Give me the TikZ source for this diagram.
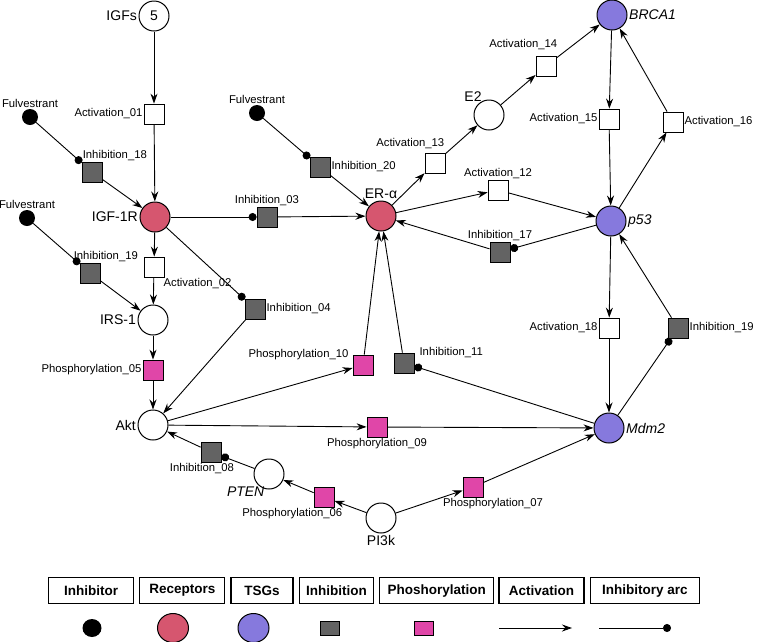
\documentclass[tikz,border=0pt]{standalone}
\usepackage{fontspec}
\setmainfont{Liberation Sans}
\usepackage{tikz}
\usetikzlibrary{arrows.meta,positioning,shapes.geometric}
\definecolor{recred}{HTML}{D6566F}
\definecolor{tsgblue}{HTML}{8679DD}
\definecolor{inhgrey}{HTML}{636363}
\definecolor{phospink}{HTML}{E046A8}

\begin{document}
\begin{tikzpicture}[x=1pt,y=-1pt,
    place/.style={circle,draw,line width=1pt,minimum size=30pt,inner sep=0pt,fill=white},
    rec/.style={place,fill=recred},
    tsg/.style={place,fill=tsgblue},
    drug/.style={circle,fill=black,minimum size=16pt,inner sep=0pt},
    act/.style={rectangle,draw,line width=0.8pt,minimum size=20pt,inner sep=0pt,fill=white},
    inh/.style={act,fill=inhgrey},
    phos/.style={act,fill=phospink},
    lbl/.style={font=\fontsize{11.3}{13}\selectfont,inner sep=1pt},
    big/.style={font=\fontsize{14}{16}\selectfont,inner sep=1.5pt},
    gene/.style={font=\fontsize{14}{16}\selectfont\itshape,inner sep=1.5pt},
    arc/.style={line width=0.9pt,-{Stealth[length=10pt,width=7pt]}},
    inarc/.style={line width=0.9pt,-{Circle[length=8pt]}},
    legbox/.style={draw,line width=1.3pt,minimum height=26pt,inner sep=0pt,font=\fontsize{13.5}{15}\selectfont\bfseries},
    legkey/.style={ellipse,draw,line width=1pt,minimum width=31pt,minimum height=29pt,inner sep=0pt}]
    \useasboundingbox (0,0) rectangle (757,641);

    % places
    \node [place,font=\fontsize{14}{16}\selectfont,label={[big]left:IGFs}] (IGF) at (154,16) {5};
    \node [rec,label={[big]left:IGF-1R}] (IGFR) at (155,217) {};
    \node [place,label={[big]left:IRS-1}] (IRS) at (153,320) {};
    \node [place,label={[big]left:Akt}] (AKT) at (153,425) {};
    \node [place,label={[gene,anchor=north east,xshift=8pt]225:PTEN}] (PTEN) at (269,474) {};
    \node [place,label={[big]below:PI3k}] (PI3K) at (381,518) {};
    \node [rec,label={[big]above:ER-α}] (ER) at (381,216) {};
    \node [place,label={[big,xshift=2pt,yshift=-2pt]120:E2}] (E2) at (489,115) {};
    \node [tsg,label={[gene]right:BRCA1}] (BRCA) at (612,15) {};
    \node [tsg,label={[gene]right:p53}] (P53) at (611,221) {};
    \node [tsg,label={[gene]right:Mdm2}] (MDM) at (609,428) {};

    \node [drug,label={[lbl]above:Fulvestrant}] (FUL1) at (30,117) {};
    \node [drug,label={[lbl]above:Fulvestrant}] (FUL2) at (27,218) {};
    \node [drug,label={[lbl]above:Fulvestrant}] (FUL3) at (257,113) {};

    % transitions
    \node [act,label={[lbl]left:Activation\_01}] (A01) at (154,114) {};
    \node [act,label={[lbl,anchor=north west,xshift=-2pt]-45:Activation\_02}] (A02) at (154,267) {};
    \node [act,label={[lbl]above:Activation\_12}] (A12) at (498,190) {};
    \node [act,label={[lbl,anchor=south east,yshift=3pt]45:Activation\_13}] (A13) at (435,163) {};
    \node [act,label={[lbl,anchor=south east,xshift=2pt,yshift=5pt]45:Activation\_14}] (A14) at (546,66) {};
    \node [act,label={[lbl]left:Activation\_15}] (A15) at (609,119) {};
    \node [act,label={[lbl]right:Activation\_16}] (A16) at (673,122) {};
    \node [act,label={[lbl]left:Activation\_18}] (A18) at (609,328) {};

    \node [inh,label={[lbl]above:Inhibition\_03}] (I03) at (267,217) {};
    \node [inh,label={[lbl]right:Inhibition\_04}] (I04) at (255,309) {};
    \node [inh,label={[lbl,xshift=-9pt]below:Inhibition\_08}] (I08) at (211,452) {};
    \node [inh,label={[lbl,anchor=west,xshift=4pt]45:Inhibition\_11}] (I11) at (404,363) {};
    \node [inh,label={[lbl]above:Inhibition\_17}] (I17) at (500,252) {};
    \node [inh,label={[lbl,anchor=south west]135:Inhibition\_18}] (I18) at (92,172) {};
    \node [inh,label={[lbl,anchor=south west,xshift=-7pt]135:Inhibition\_19}] (I19) at (90,273) {};
    \node [inh,label={[lbl]right:Inhibition\_19}] (I19R) at (678,328) {};
    \node [inh,label={[lbl]right:Inhibition\_20}] (I20) at (320,167) {};

    \node [phos,label={[lbl]left:Phosphorylation\_05}] (P05) at (153,370) {};
    \node [phos,label={[lbl,anchor=north east,xshift=9pt]-45:Phosphorylation\_06}] (P06) at (324,497) {};
    \node [phos,label={[lbl,xshift=20pt]below:Phosphorylation\_07}] (P07) at (473,487) {};
    \node [phos,label={[lbl]below:Phosphorylation\_09}] (P09) at (377,427) {};
    \node [phos,label={[lbl,anchor=east,xshift=-3pt]135:Phosphorylation\_10}] (P10) at (363,365) {};

    % arcs
    \draw [arc] (IGF) -- (A01);
    \draw [arc] (A01) -- (IGFR);
    \draw [inarc] (FUL1) -- (I18);
    \draw [arc] (I18) -- (IGFR);
    \draw [inarc] (FUL2) -- (I19);
    \draw [arc] (I19) -- (IRS);
    \draw [arc] (IGFR) -- (A02);
    \draw [arc] (A02) -- (IRS);
    \draw [inarc] (IGFR) -- (I03);
    \draw [arc] (I03) -- (ER);
    \draw [inarc] (IGFR) -- (I04);
    \draw [arc] (I04) -- (AKT);
    \draw [arc] (IRS) -- (P05);
    \draw [arc] (P05) -- (AKT);
    \draw [inarc] (FUL3) -- (I20);
    \draw [arc] (I20) -- (ER);
    \draw [arc] (ER) -- (A13);
    \draw [arc] (A13) -- (E2);
    \draw [arc] (E2) -- (A14);
    \draw [arc] (A14) -- (BRCA);
    \draw [arc] (ER) -- (A12);
    \draw [arc] (A12) -- (P53);
    \draw [inarc] (P53) -- (I17);
    \draw [arc] (I17) -- (ER);
    \draw [arc] (BRCA) -- (A15);
    \draw [arc] (A15) -- (P53);
    \draw [arc] (P53) -- (A16);
    \draw [arc] (A16) -- (BRCA);
    \draw [arc] (P53) -- (A18);
    \draw [arc] (A18) -- (MDM);
    \draw [inarc] (MDM) -- (I19R);
    \draw [arc] (I19R) -- (P53);
    \draw [inarc] (MDM) -- (I11);
    \draw [arc] (I11) -- (ER);
    \draw [arc] (AKT) -- (P10);
    \draw [arc] (P10) -- (ER);
    \draw [arc] (AKT) -- (P09);
    \draw [arc] (P09) -- (MDM);
    \draw [arc] (PI3K) -- (P07);
    \draw [arc] (P07) -- (MDM);
    \draw [arc] (PI3K) -- (P06);
    \draw [arc] (P06) -- (PTEN);
    \draw [inarc] (PTEN) -- (I08);
    \draw [arc] (I08) -- (AKT);

    % legend
    \node [legbox,minimum width=85pt] (LINR) at (91,590.5) {Inhibitor};
    \node [legbox,minimum width=85pt,right=5pt of LINR] (LREC) {Receptors};
    \node [legbox,minimum width=62pt,right=5pt of LREC] (LTSG) {TSGs};
    \node [legbox,minimum width=74pt,right=5pt of LTSG] (LINH) {Inhibition};
    \node [legbox,minimum width=114pt,right=5pt of LINH] (LPHO) {Phoshorylation};
    \node [legbox,minimum width=85pt,right=4pt of LPHO] (LACT) {Activation};
    \node [legbox,minimum width=109pt,right=5pt of LACT] (LARC) {Inhibitory arc};

    \node [ellipse,fill=black,minimum width=19pt,minimum height=18pt,inner sep=0pt] (KINR) at (92,628) {};
    \node [legkey,fill=recred] (KREC) at (173,628) {};
    \node [legkey,fill=tsgblue] (KTSG) at (253.5,628) {};
    \node [rectangle,draw,line width=0.8pt,fill=inhgrey,minimum width=19pt,minimum height=14pt,inner sep=0pt] (KINH) at (330,628) {};
    \node [rectangle,draw,line width=0.8pt,fill=phospink,minimum width=19pt,minimum height=14pt,inner sep=0pt] (KPHO) at (424,628) {};
    \coordinate (KACT1) at (499,628);
    \coordinate (KACT2) at (572,628);
    \coordinate (KARC1) at (599,628);
    \coordinate (KARC2) at (671,628);
    \draw [arc] (KACT1) -- (KACT2);
    \draw [inarc] (KARC1) -- (KARC2);
\end{tikzpicture}
\end{document}
